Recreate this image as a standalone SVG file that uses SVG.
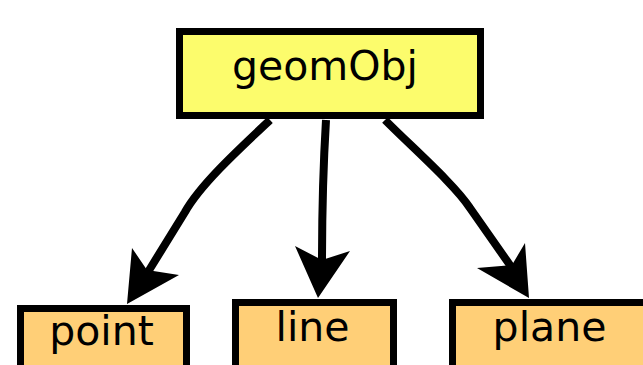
<svg xmlns="http://www.w3.org/2000/svg" width="643" height="365" viewBox="0 0 643 365">
<style>
.box{stroke:#000;stroke-width:7}
.root{fill:#fcfc6c}
.leaf{fill:#ffcf77}
.lbl{font-family:"DejaVu Sans",sans-serif;font-size:41px;fill:#000;text-anchor:middle}
.edge{fill:none;stroke:#000;stroke-width:8}
.head{fill:#000;stroke:none}
</style>
<rect width="643" height="365" fill="#fff"/>
<g id="connectors">
<path class="edge" d="M270,120 C238,150 200,185 185,212 L148,272"/>
<polygon class="head" points="127,304 132,248 147,270 179,275"/>
<path class="edge" d="M326,120 C323,170 322,220 322,262"/>
<polygon class="head" points="318,298 295,246 322,260 350,251"/>
<path class="edge" d="M385,120 C415,150 455,185 470,208 L512,268"/>
<polygon class="head" points="529,298 477,268 512,265 525,243"/>
</g>
<g id="geomObj">
<rect class="box root" x="179.5" y="31.5" width="301" height="84"/>
<text class="lbl" x="325" y="80">geomObj</text>
</g>
<g id="point">
<rect class="box leaf" x="20.5" y="308.5" width="166" height="70"/>
<text class="lbl" x="101.5" y="345">point</text>
</g>
<g id="line">
<rect class="box leaf" x="235.5" y="302.5" width="158" height="70"/>
<text class="lbl" x="312.5" y="341">line</text>
</g>
<g id="plane">
<rect class="box leaf" x="452.5" y="302.5" width="220" height="70"/>
<text class="lbl" x="549.5" y="341">plane</text>
</g>
</svg>
